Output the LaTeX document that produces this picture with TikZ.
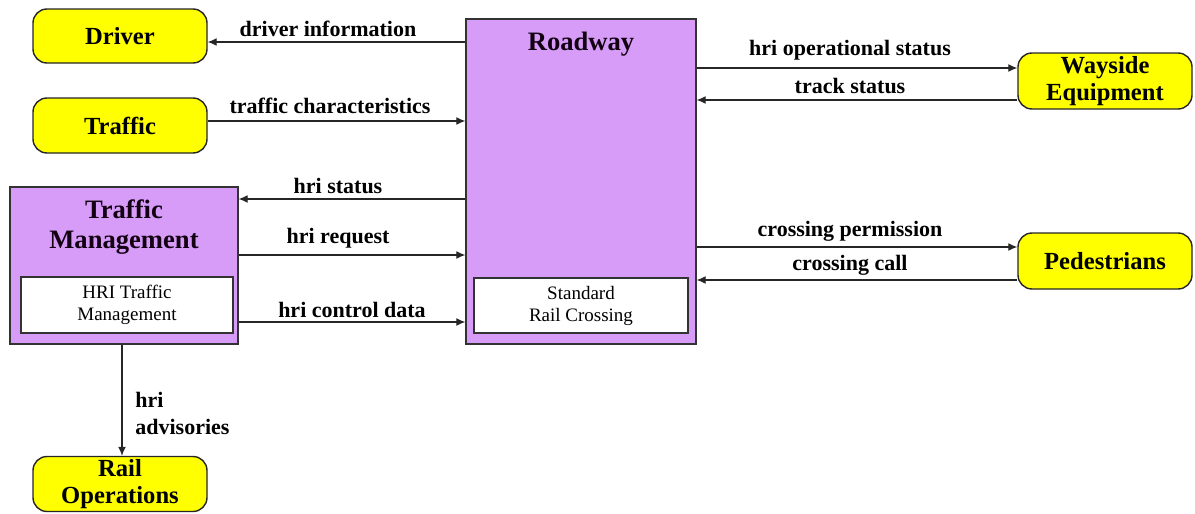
\documentclass[tikz,border=0pt]{standalone}
\usepackage{fontspec}
\setmainfont{Liberation Serif}
\usetikzlibrary{arrows.meta}
\definecolor{pur}{HTML}{D69CF8}
\definecolor{ylw}{HTML}{FFFF00}
\begin{document}
\begin{tikzpicture}[x=0.5pt,y=-0.5pt,
  ybox/.style={draw=black!85, fill=ylw, rounded corners=7pt, line width=0.7pt, align=center,
    font=\fontsize{12.3}{13.8}\selectfont\bfseries, inner sep=0pt},
  pbox/.style={draw=black!80, fill=pur, line width=0.7pt, inner sep=0pt},
  wbox/.style={draw=black!80, fill=white, line width=0.6pt, align=center, inner sep=0pt,
    font=\fontsize{9.5}{11}\selectfont},
  ttl/.style={align=center, font=\fontsize{13.3}{15}\selectfont\bfseries, text=black!85!violet},
  arr/.style={-{Latex[length=4.5pt,width=4pt]}, line width=0.6pt, draw=black!85},
  lbl/.style={font=\fontsize{11}{12}\selectfont\bfseries, inner sep=0pt}]
\useasboundingbox (0,0) rectangle (1195,514);
% external boxes
\node[ybox, minimum width=87pt, minimum height=27pt] (driver) at (120,36) {Driver};
\node[ybox, minimum width=87pt, minimum height=27.5pt] (traffic) at (120,125.5) {Traffic};
\node[ybox, minimum width=87pt, minimum height=27.5pt] (rail) at (120,484) {Rail\\Operations};
\node[ybox, minimum width=87pt, minimum height=28pt] (wayside) at (1105,81) {Wayside\\Equipment};
\node[ybox, minimum width=87pt, minimum height=28pt] (ped) at (1105,261) {Pedestrians};
% traffic management
\node[pbox, minimum width=114pt, minimum height=78.5pt] (tm) at (124,265.5) {};
\node[ttl] (tmt) at (124,227) {Traffic\\Management};
\node[wbox, minimum width=106pt, minimum height=28pt] (tmi) at (127,305) {HRI Traffic\\Management};
% roadway
\node[pbox, minimum width=115pt, minimum height=162.5pt] (road) at (581,181.5) {};
\node[ttl] (roadt) at (581,44) {Roadway};
\node[wbox, minimum width=107pt, minimum height=27.5pt] (roadi) at (581,305.5) {Standard\\Rail Crossing};
% connectors left
\draw[arr] (road.west |- 0,42) -- (driver.east |- 0,42);
\node[lbl] (l1) at (328,29) {driver information};
\draw[arr] (traffic.east |- 0,121) -- (road.west |- 0,121);
\node[lbl] (l2) at (330,106) {traffic characteristics};
\draw[arr] (road.west |- 0,199) -- (tm.east |- 0,199);
\node[lbl] (l3) at (338,186) {hri status};
\draw[arr] (tm.east |- 0,255) -- (road.west |- 0,255);
\node[lbl] (l4) at (338,238) {hri request};
\draw[arr] (tm.east |- 0,322) -- (road.west |- 0,322);
\node[lbl] (l5) at (352,310) {hri control data};
% connectors right
\draw[arr] (road.east |- 0,68) -- (wayside.west |- 0,68);
\node[lbl] (l6) at (850,50) {hri operational status};
\draw[arr] (wayside.west |- 0,100) -- (road.east |- 0,100);
\node[lbl] (l7) at (850,86) {track status};
\draw[arr] (road.east |- 0,247) -- (ped.west |- 0,247);
\node[lbl] (l8) at (850,231) {crossing permission};
\draw[arr] (ped.west |- 0,280) -- (road.east |- 0,280);
\node[lbl] (l9) at (850,265) {crossing call};
% down
\draw[arr] (tm.south -| 122,0) -- (rail.north -| 122,0);
\node[lbl, anchor=west, align=left, font=\fontsize{11}{13.5}\selectfont\bfseries] (l10) at (135,413) {hri\\advisories};
\end{tikzpicture}
\end{document}
